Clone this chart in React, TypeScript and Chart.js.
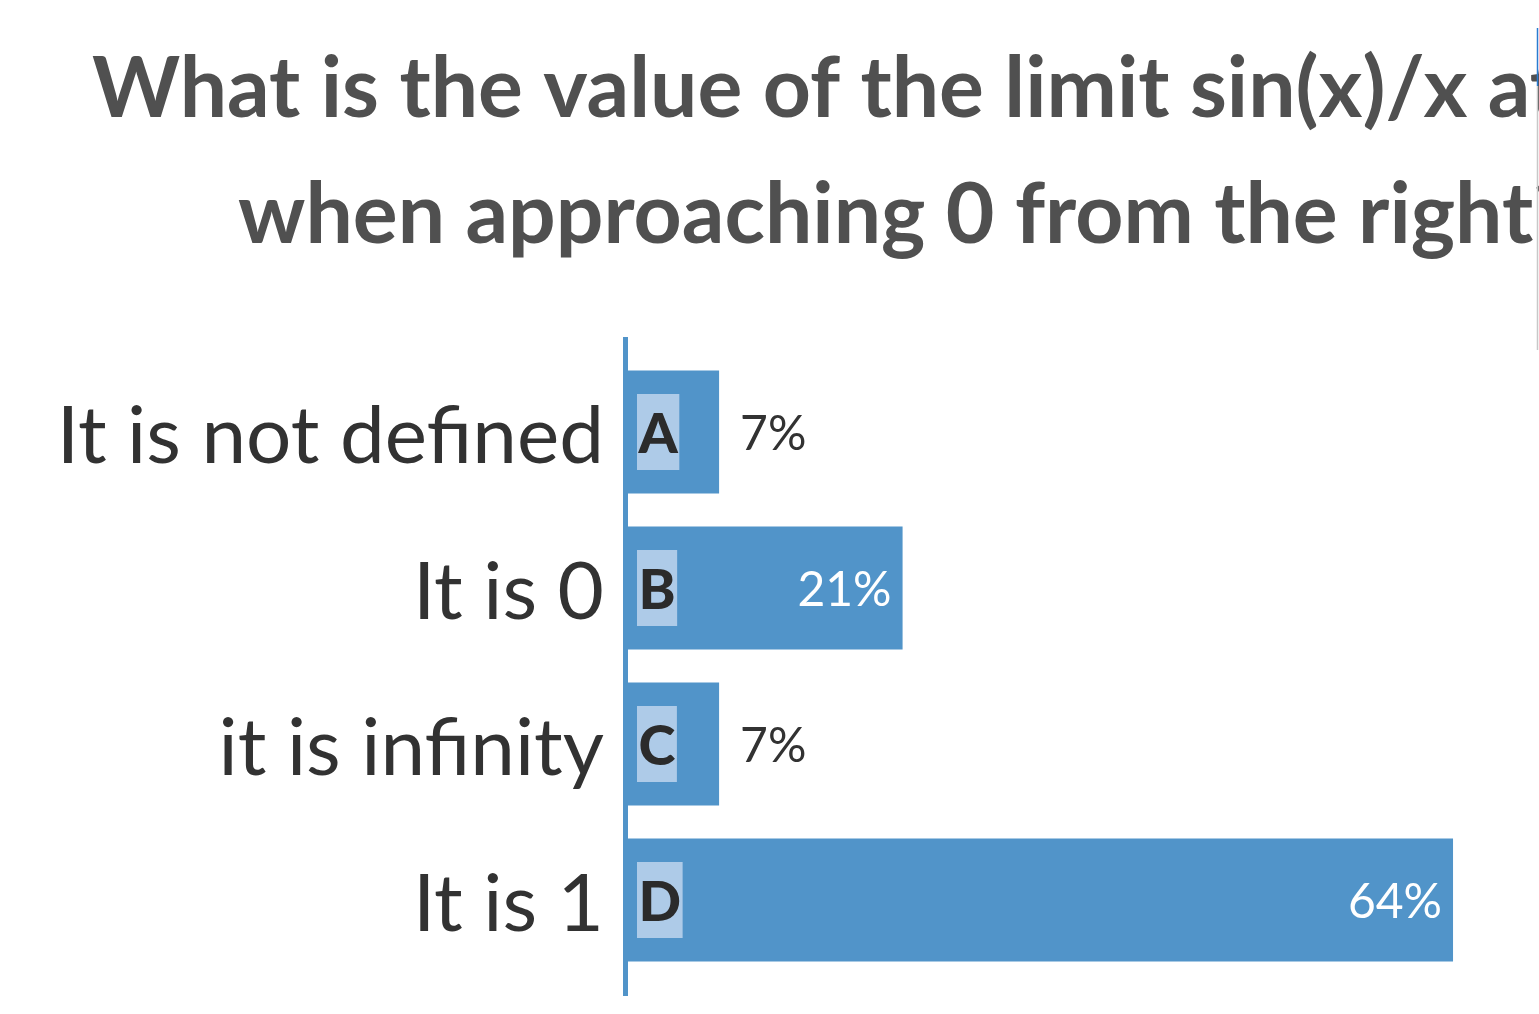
import React, { useEffect, useRef } from "react";
import { Chart, registerables } from "chart.js";

Chart.register(...registerables);

const titleLines = ["What is the value of the limit sin(x)/x at x = 0", "when approaching 0 from the right?"];
const categories = ["It is not defined", "It is 0", "it is infinity", "It is 1"];
const letters = ["A", "B", "C", "D"];
const percentages = [7.1, 21.4, 7.1, 64.3];

const BAR = "#5194c9";
const BOX = "#aecbe8";
const TEXT = "#323232";
const TITLE = "#505050";

const decorPlugin = {
  id: "decor",
  afterDatasetsDraw(chart: any) {
    const ctx = chart.ctx;
    const area = chart.chartArea;
    ctx.save();
    // axis line
    ctx.strokeStyle = BAR;
    ctx.lineWidth = 5;
    ctx.beginPath();
    ctx.moveTo(area.left - 2.5, area.top - 17);
    ctx.lineTo(area.left - 2.5, area.bottom + 18);
    ctx.stroke();

    const meta = chart.getDatasetMeta(0);
    meta.data.forEach((bar: any, i: number) => {
      const { x, y, base } = bar;
      // letter box
      ctx.font = "900 56px Lato";
      const lw = ctx.measureText(letters[i]).width;
      const boxW = lw + 3;
      const boxH = 76;
      const boxX = base + 9;
      ctx.fillStyle = BOX;
      ctx.fillRect(boxX, y - boxH / 2, boxW, boxH);
      ctx.fillStyle = "#2b2b2b";
      ctx.textAlign = "left";
      ctx.textBaseline = "middle";
      ctx.fillText(letters[i], boxX + 1.5, y + 3);

      // value label
      const label = Math.round(percentages[i]) + "%";
      ctx.font = "48px Lato";
      const vw = ctx.measureText(label).width;
      if (x - base > boxW + 9 + vw + 40) {
        ctx.fillStyle = "#ffffff";
        ctx.textAlign = "right";
        ctx.fillText(label, x - 11, y + 3);
      } else {
        ctx.fillStyle = TEXT;
        ctx.textAlign = "left";
        ctx.fillText(label, x + 21, y + 3);
      }
    });
    ctx.restore();
  },
  afterDraw(chart: any) {
    const ctx = chart.ctx;
    ctx.save();
    ctx.font = "bold 84px Lato";
    ctx.fillStyle = TITLE;
    ctx.textAlign = "left";
    ctx.textBaseline = "alphabetic";
    ctx.fillText(titleLines[0], 92, 117);
    ctx.fillText(titleLines[1], 238, 243);
    // right edge frame line
    ctx.lineWidth = 1.5;
    ctx.strokeStyle = "#2a7bd0";
    ctx.beginPath();
    ctx.moveTo(1537.5, 28);
    ctx.lineTo(1537.5, 86);
    ctx.stroke();
    ctx.strokeStyle = "#c8c8c8";
    ctx.beginPath();
    ctx.moveTo(1537.5, 86);
    ctx.lineTo(1537.5, 350);
    ctx.stroke();
    ctx.restore();
  },
};

export default function App() {
  const ref = useRef<HTMLCanvasElement | null>(null);
  useEffect(() => {
    document.body.style.margin = "0";
    const canvas = ref.current;
    if (!canvas) return;
    const chart = new Chart(canvas, {
      type: "bar",
      data: {
        labels: categories,
        datasets: [
          {
            data: percentages,
            backgroundColor: BAR,
            borderWidth: 0,
            barPercentage: 0.79,
            categoryPercentage: 1,
          },
        ],
      },
      options: {
        indexAxis: "y",
        responsive: false,
        animation: false,
        devicePixelRatio: 1,
        layout: { padding: { top: 354, bottom: 36, left: 0, right: 0 } },
        plugins: {
          legend: { display: false },
          title: { display: false },
          tooltip: { enabled: false },
        },
        scales: {
          x: { display: false, min: 0, max: 71 },
          y: {
            grid: { display: false, drawTicks: false },
            border: { display: false },
            ticks: {
              color: TEXT,
              padding: 24,
              labelOffset: 5,
              font: { family: "Lato", size: 80 },
            },
            afterFit: (scale: any) => {
              scale.width = 628;
              scale.paddingTop = 0;
              scale.paddingBottom = 0;
            },
          },
        },
      },
      plugins: [decorPlugin],
    } as any);
    return () => chart.destroy();
  }, []);
  return (
    <div style={{ width: 1539, height: 1014, background: "#ffffff", overflow: "hidden" }}>
      <canvas ref={ref} width={1539} height={1014} />
    </div>
  );
}
